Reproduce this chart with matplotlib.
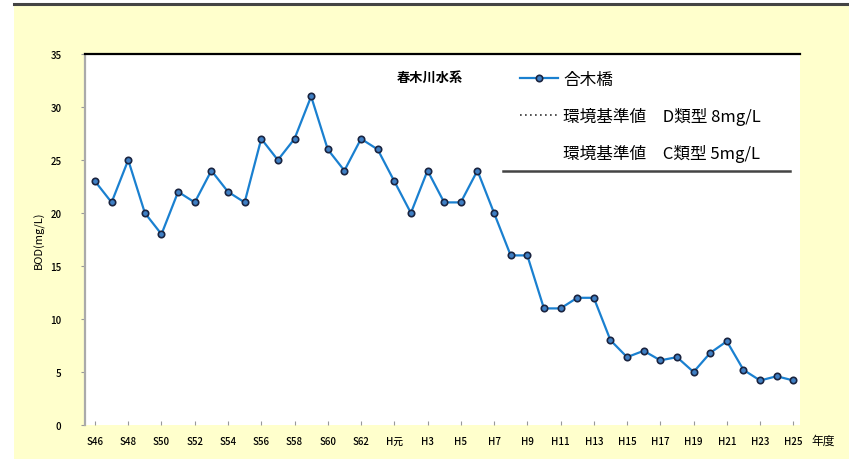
import matplotlib.pyplot as plt
from matplotlib.lines import Line2D
from matplotlib.patches import Rectangle

plt.rcParams['font.family'] = ['Noto Sans CJK JP', 'DejaVu Sans']

# BOD yearly averages, S46 .. H25
years = ["S46", "S47", "S48", "S49", "S50", "S51", "S52", "S53", "S54", "S55",
         "S56", "S57", "S58", "S59", "S60", "S61", "S62", "S63",
         "H元", "H2", "H3", "H4", "H5", "H6", "H7", "H8", "H9", "H10",
         "H11", "H12", "H13", "H14", "H15", "H16", "H17", "H18", "H19", "H20",
         "H21", "H22", "H23", "H24", "H25"]
bod = [23, 21, 25, 20, 18, 22, 21, 24, 22, 21,
       27, 25, 27, 31, 26, 24, 27, 26,
       23, 20, 24, 21, 21, 24, 20, 16, 16, 11,
       11, 12, 12, 8, 6.4, 7.0, 6.1, 6.4, 5.0, 6.8,
       7.9, 5.2, 4.2, 4.6, 4.2]
yticks = [0, 5, 10, 15, 20, 25, 30, 35]

series_label = "合木橋"
std_d_label = "環境基準値　D類型 8mg/L"
std_c_label = "環境基準値　C類型 5mg/L"
river = "春木川水系"

fig = plt.figure(figsize=(8.49, 4.60), dpi=100)
fig.patch.set_facecolor("white")

# yellow panel and the rule across the top
fig.add_artist(Rectangle((14 / 849, 0), 1 - 14 / 849, (460 - 6) / 460,
                         transform=fig.transFigure, facecolor="#FFFFCC",
                         edgecolor="none", zorder=0))
fig.add_artist(Line2D([14 / 849, 1], [(460 - 5) / 460] * 2,
                      transform=fig.transFigure, color="#444444", lw=2.2))

ax = fig.add_axes([85 / 849, (460 - 426) / 460, 715 / 849, 371 / 460])
ax.set_facecolor("white")

x = list(range(len(years)))
line, = ax.plot(x, bod, color="#1a80d0", lw=1.6, marker="o", markersize=4.6,
                markerfacecolor="#3f7fc4", markeredgecolor="#1a2440",
                markeredgewidth=1.2)

ax.set_xlim(-0.6, 42.4)
ax.set_ylim(0, 35)
ax.set_yticks(yticks)
ax.set_xticks(x[::2])
ax.set_xticklabels(years[::2], fontsize=7, fontweight="medium")
for t in ax.get_yticklabels():
    t.set_fontweight("medium")
ax.tick_params(axis="y", labelsize=7, length=3, color="#999999", pad=14)
ax.tick_params(axis="x", direction="in", length=3, color="#999999", pad=8)

ax.spines["right"].set_visible(False)
ax.spines["bottom"].set_visible(False)
ax.spines["top"].set_color("black")
ax.spines["top"].set_linewidth(1.6)
ax.spines["left"].set_color("#aaaaaa")
ax.spines["left"].set_linewidth(1.6)

ax.set_ylabel("BOD(mg/L)", fontsize=8, labelpad=4)
fig.text(823 / 849, (460 - 441) / 460, "年度", fontsize=8.5, ha="center", va="center")

fig.text(397 / 849, (460 - 78) / 460, river, fontsize=9.5, fontweight="bold",
         ha="left", va="center")

handles = [line,
           Line2D([], [], color="#333333", lw=1.2, linestyle=(0, (1, 2))),
           Line2D([], [], color="white", lw=1.2)]
ax.legend(handles, [series_label, std_d_label, std_c_label],
          loc="upper left", bbox_to_anchor=(505 / 849, (460 - 57) / 460),
          bbox_transform=fig.transFigure, frameon=False, fontsize=12,
          handlelength=2.3, handletextpad=0.3, labelspacing=1.15)

fig.add_artist(Line2D([503 / 849, 790 / 849], [(460 - 172) / 460] * 2,
                      transform=fig.transFigure, color="#444444", lw=1.8))

fig.savefig("out.png", dpi=100)
